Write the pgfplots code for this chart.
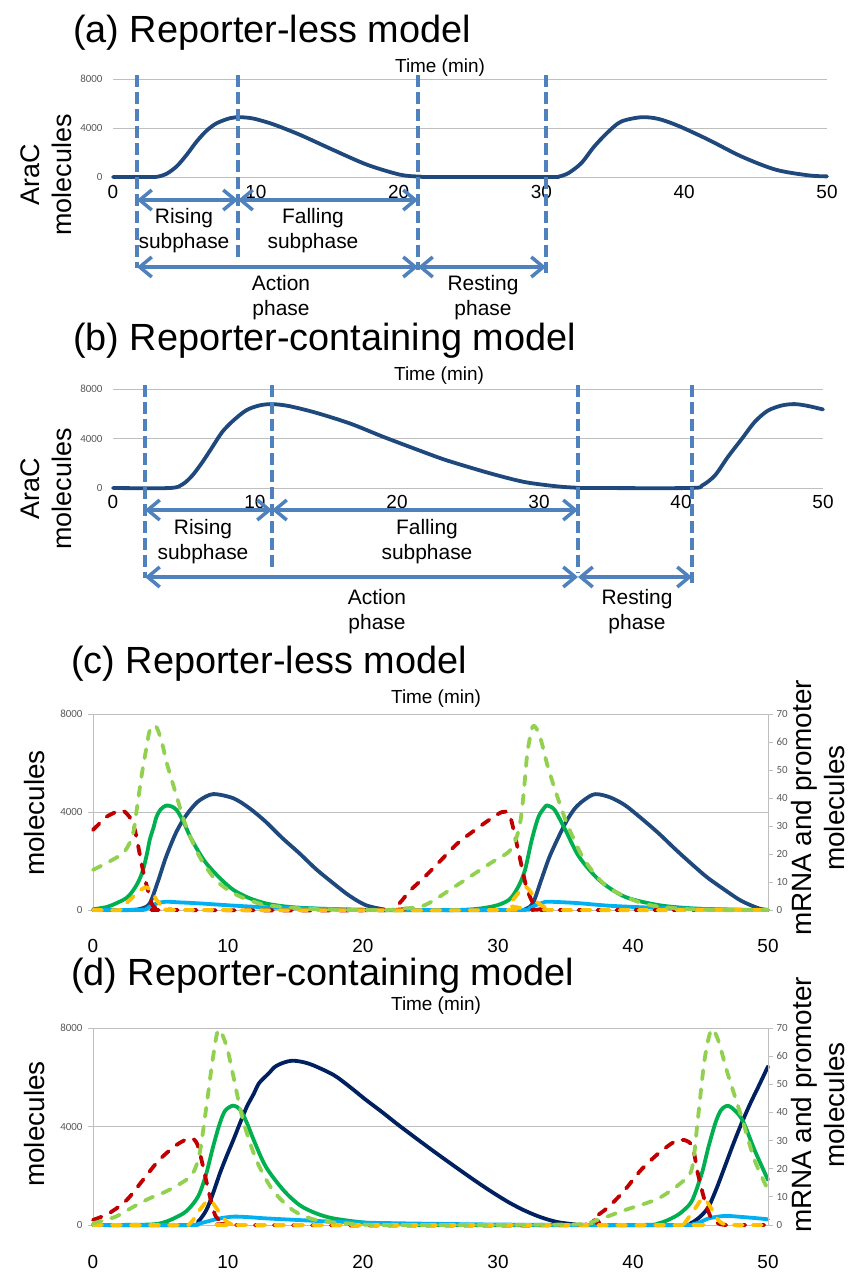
\documentclass[border=0pt]{standalone}
\usepackage{fontspec}
\setmainfont{Liberation Sans}
\newfontfamily\calib{Carlito}
\usepackage{pgfplots}
\pgfplotsset{compat=1.18}
\usetikzlibrary{arrows.meta}

\definecolor{arac}{HTML}{1F497D}
\definecolor{navy}{HTML}{002060}
\definecolor{grn}{HTML}{00B050}
\definecolor{lgrn}{HTML}{92D050}
\definecolor{dred}{HTML}{C00000}
\definecolor{gold}{HTML}{FFC000}
\definecolor{sky}{HTML}{00B0F0}
\definecolor{phase}{HTML}{4F81BD}
\definecolor{gridc}{HTML}{BFBFBF}
\definecolor{tickc}{HTML}{595959}

\pgfplotsset{
  base/.style={scale only axis, clip=false, xmin=0, xmax=50,
    xtick={0,10,20,30,40,50}, xticklabels={0,10,20,30,40,50},
    yticklabel style={font=\calib\fontsize{11}{12}\selectfont, text=tickc},
    grid style={gridc, line width=0.9bp}},
  xlab/.style={xticklabel style={font=\fontsize{19}{22}\selectfont, anchor=base, yshift=-#1}},
  phaseax/.style={base, ymin=0, ymax=8000,
    ytick={0,4000,8000}, yticklabels={0,4000,8000},
    axis line style={draw=none}, major tick length=0pt, ymajorgrids,
    yticklabel style={xshift=-7bp}},
  molax/.style={base, ymin=0, ymax=8000,
    ytick={0,4000,8000}, yticklabels={0,4000,8000},
    axis line style={gridc, line width=0.9bp}, ytick pos=left,
    tick align=outside, major tick length=5bp,
    ytick style={gridc, line width=0.9bp}, xtick style={draw=none},
    ymajorgrids, yticklabel style={xshift=-2bp}},
  mrnaax/.style={base, ymin=0, ymax=70, hide x axis, axis y line*=right,
    ytick={0,10,...,70}, yticklabels={0,10,20,30,40,50,60,70},
    axis line style={gridc, line width=0.9bp}, tick align=outside,
    major tick length=5bp, ytick style={gridc, line width=0.9bp}},
  crv/.style={line width=3.8bp, smooth, tension=0.5, line cap=round, line join=round},
  dcrv/.style={crv, dash pattern=on 9bp off 10bp},
}

\begin{document}
\begin{tikzpicture}
\path[use as bounding box] (0,0) rectangle (850bp,-1272bp);

% (a) reporter-less, AraC only
\begin{axis}[phaseax, xlab=21bp, at={(113bp,-177bp)}, anchor=south west, width=714bp, height=98bp]
\addplot[crv, arac] coordinates {
(0,0) (2.5,0) (3.1,20) (3.76,270) (4.46,870) (5.16,1815) (5.86,2900) (6.56,3790)
(7.26,4390) (8.19,4800) (8.9,4880) (9.83,4770) (11.2,4310) (13.1,3440) (15.4,2220)
(17.8,1000) (20.1,190) (21.5,30) (22.5,0) (30.5,0) (31.2,30) (31.9,325) (32.8,1140)
(33.7,2490) (34.7,3710) (35.6,4530) (37.0,4880) (38.2,4740) (39.6,4170) (41.7,3040)
(44.0,1680) (46.4,600) (48.7,135) (50,50)};
\end{axis}

% (b) reporter-containing, AraC only
\begin{axis}[phaseax, xlab=20bp, at={(113bp,-488bp)}, anchor=south west, width=710bp, height=99bp]
\addplot[crv, arac] coordinates {
(0,0) (4.0,0) (4.9,300) (5.6,1030) (6.3,2100) (7.0,3320) (7.7,4540) (8.5,5480)
(9.4,6290) (10.3,6670) (11.2,6780) (12.4,6620) (14.3,6080) (16.7,5210) (19.0,4150)
(21.0,3280) (23.0,2430) (24.3,1950) (26.7,1140) (29.0,480) (31.3,130) (32.7,20) (33.5,0)
(40.6,0) (41.5,215) (42.4,1030) (43.3,2510) (44.3,4000) (45.2,5350) (46.1,6240)
(47.1,6670) (48.0,6780) (48.9,6640) (50,6350)};
\end{axis}

% (c) reporter-less, all species
\begin{axis}[molax, xlab=37bp, at={(93bp,-910bp)}, anchor=south west, width=675bp, height=196bp]
\addplot[crv, arac] coordinates {
(0,0) (2,0) (3,10) (3.6,60) (4.2,270) (4.8,1150) (5.4,2150) (6.1,3100) (6.7,3700)
(7.3,4150) (7.9,4480) (8.9,4730) (10.4,4560) (11.6,4150) (12.8,3600) (14,2950) (15.3,2310)
(16.5,1680) (17.8,1090) (19,580) (20.2,200) (21.5,30) (22.5,0) (31,0) (32,30)
(32.6,300) (33.2,1220) (33.8,2150) (34.5,3000) (35.1,3650) (35.7,4150) (36.4,4500)
(37.2,4730) (38.3,4600) (39.4,4280) (40.6,3750) (41.9,3130) (43.1,2500) (44.3,1900)
(45.5,1330) (46.8,820) (48,380) (49.3,70) (50,0)};
\addplot[crv, grn] coordinates {
(0,30) (1,120) (1.7,270) (2.5,500) (3,820) (3.4,1200) (3.7,1630) (4.0,2300) (4.2,2860)
(4.5,3400) (4.7,3800) (5.0,4100) (5.4,4260) (5.8,4230) (6.2,4080) (6.7,3600) (7.2,2990)
(7.8,2400) (8.4,1900) (9.4,1300) (10.4,820) (11.6,480) (12.8,270) (14,160) (15.3,95)
(17.8,30) (20,0) (27,0) (29.5,135) (30.8,410) (31.5,950) (32,1630) (32.5,2860) (33,3800)
(33.5,4220) (33.7,4260) (34.2,4080) (35,3260) (36,2180) (37.5,1220) (39.4,540)
(41.9,200) (44.3,70) (46.8,10) (50,0)};
\addplot[crv, sky] coordinates {
(0,0) (3.5,0) (4.0,60) (4.4,200) (5.0,310) (5.4,340) (6.5,310) (7.9,270) (10.4,180)
(12.8,110) (15.3,70) (17.8,40) (20,15) (22,0) (31.5,0) (32.3,60) (32.8,200) (33.4,310)
(33.7,340) (35.7,290) (38.1,180) (40.7,110) (43.2,70) (45.6,40) (48,15) (50,5)};
\end{axis}
\begin{axis}[mrnaax, at={(93bp,-910bp)}, anchor=south west, width=675bp, height=196bp]
\addplot[dcrv, dred] coordinates {
(0,28.6) (0.5,31) (1,33.3) (1.7,35) (2.2,35.5) (2.7,33.3) (3.1,28.6) (3.5,19) (3.75,13)
(4,8.3) (4.4,1.8) (4.9,0.2) (5.5,0) (22,0) (22.7,2.4) (23.5,7) (24.5,11.5) (25.8,17.9)
(27,23.8) (28.3,28.6) (29.5,32.7) (30.3,35) (30.8,34.5) (31.1,29.8) (31.6,19) (32.1,8.3)
(32.6,2.4) (33.1,0.3) (33.6,0) (50,0)};
\addplot[dcrv, gold] coordinates {
(0,0) (2,0) (2.2,1.2) (2.6,3) (3,4.8) (3.4,6.6) (3.7,7.7) (4.0,8.1) (4.2,7.4) (4.5,5.5)
(4.7,3.6) (5.2,1.2) (5.8,0.3) (6.7,0) (30.3,0) (30.8,1.8) (31.5,6) (32,8.3) (32.5,6)
(33,2.4) (33.7,0.6) (34.5,0) (50,0)};
\addplot[dcrv, lgrn] coordinates {
(0,14.3) (1.2,17.3) (2.2,20.2) (2.7,23.8) (3.0,28) (3.2,34.5) (3.45,43) (3.7,51)
(4.0,59) (4.2,64) (4.6,66) (4.9,63) (5.2,58) (5.4,53.6) (5.8,47) (6.2,40.5) (6.9,29.8)
(7.9,19) (9.1,10.7) (10.4,6) (11.6,3.5) (12.8,1.8) (15.3,0.6) (18,0.1) (21.5,0)
(22.7,0.4) (24.6,1.8) (27,9) (29.5,16.9) (30.8,20.8) (31.3,25) (31.6,30) (31.8,37)
(32.0,47) (32.2,57) (32.6,65.7) (33.1,62) (33.7,51) (34.5,39) (35.2,29.8) (36.4,17.9)
(38.1,8.3) (40.7,2.4) (43.2,0.6) (46,0) (50,0)};
\end{axis}

% (d) reporter-containing, all species
\begin{axis}[molax, xlab=38bp, at={(93bp,-1225bp)}, anchor=south west, width=675bp, height=197bp]
\addplot[crv, navy] coordinates {
(0,0) (7.2,0) (7.8,150) (8.4,610) (8.9,1300) (9.4,2100) (9.9,2800) (10.4,3460)
(10.9,4150) (11.4,4810) (11.9,5320) (12.3,5760) (13,6150) (13.6,6470) (14.7,6670)
(16,6550) (17.8,6100) (19,5620) (20.2,5090) (21.5,4550) (22.7,4030) (24.6,3250)
(25.8,2770) (27,2300) (28.3,1800) (29.5,1360) (30.8,920) (32,580) (33.2,310)
(34.4,120) (35.7,25) (36.5,0) (43.5,0) (44.3,80) (45,350) (45.6,746) (46.2,1500)
(46.8,2370) (47.4,3250) (48.05,4140) (48.7,4950) (49.3,5630) (50,6440)};
\addplot[crv, grn] coordinates {
(0,0) (4.2,20) (5.4,135) (6.7,475) (7.4,850) (7.9,1290) (8.4,2100) (8.9,3190) (9.4,4140)
(9.8,4650) (10.4,4850) (10.9,4680) (11.4,4150) (11.9,3460) (12.8,2370) (14.1,1420)
(15.3,810) (16.5,480) (17.8,270) (20.2,95) (22.7,30) (25,0) (40,0) (41.9,70) (43.1,340)
(43.8,620) (44.4,1020) (45.1,2100) (45.6,3190) (46.1,4140) (46.5,4650) (46.9,4830)
(47.3,4770) (48.1,4270) (49,3050) (50,1830)};
\addplot[crv, sky] coordinates {
(0,0) (7.2,0) (7.8,50) (8.4,135) (9.4,270) (10.4,340) (11.5,320) (12.8,270) (15.3,200)
(17.8,135) (20.2,95) (22.7,70) (25,50) (28,30) (31,15) (34,5) (36,0) (44,0) (44.4,30)
(45,120) (45.6,270) (46.8,370) (48,330) (49.3,270) (50,230)};
\end{axis}
\begin{axis}[mrnaax, at={(93bp,-1225bp)}, anchor=south west, width=675bp, height=197bp]
\addplot[dcrv, dred] coordinates {
(0,1.8) (1.2,4.2) (2.5,8.9) (3.7,16) (4.9,23.1) (6.2,28.5) (7.2,30.8) (7.7,29) (8.1,21.9)
(8.6,11.3) (9.1,3) (9.9,0.6) (10.5,0) (35.5,0) (37,2.4) (38.2,6.5) (39.4,12.5)
(40.6,19.6) (41.9,25.5) (43.1,29.7) (43.8,30.2) (44.4,27.9) (44.8,18.4) (45.3,8.9)
(45.8,2.4) (46.3,0.6) (47,0) (50,0)};
\addplot[dcrv, gold] coordinates {
(0,0) (6.4,0) (7.2,0.6) (7.9,5.3) (8.4,8.3) (8.7,8.5) (8.9,7.7) (9.4,4.2) (9.9,1.2)
(10.4,0.2) (11,0) (43.5,0) (43.8,0.6) (44.6,5.9) (45.2,9.5) (45.8,5.9) (46.3,1.8)
(46.8,0.2) (47.3,0) (50,0)};
\addplot[dcrv, lgrn] coordinates {
(0,0.6) (1.7,3) (3,6.5) (4.2,9.5) (5.4,11.9) (6.7,15.4) (7.4,18.4) (7.9,25.5) (8.4,42.1)
(8.9,59.9) (9.3,69.4) (9.9,63.4) (10.4,52.8) (11.1,37.4) (12.1,23.1) (13.3,12.5)
(14.8,5.3) (16.5,1.8) (19,0.5) (22,0) (35.7,0.2) (37,1.2) (39.4,5.3) (41.9,9.5)
(43.8,16) (44.4,20.8) (44.8,37.4) (45.3,58.7) (45.8,69.4) (46.3,65.8) (47,54)
(48.1,37.4) (49,23.1) (50,12.5)};
\end{axis}

% titles, labels and phase annotations (1 unit = 1 pixel of the figure, y downwards)
\begin{scope}[x=1bp, y=-1bp, every node/.style={inner sep=0pt},
  ph/.style={draw=phase, line width=3.5bp},
  dsh/.style={ph, dash pattern=on 12bp off 5bp},
  arr/.style={ph, arrows={Straight Barb[length=12bp,width=20bp]-Straight Barb[length=12bp,width=20bp]}}]
\tikzset{ttl/.style={anchor=base west, font=\fontsize{38}{45}\selectfont},
  tm/.style={anchor=base, font=\fontsize{19}{22}\selectfont},
  yl/.style={rotate=90, align=center, font=\fontsize{27}{32}\selectfont},
  ml/.style={rotate=90, align=center, font=\fontsize{28}{33}\selectfont},
  pt/.style={align=center, font=\fontsize{21}{25}\selectfont}}

\node[ttl] at (73,42) {(a) Reporter-less model};
\node[tm] at (440,72) {Time (min)};
\node[yl] at (46,175) {AraC\\molecules};
\draw[dsh] (137,75) -- (137,268);
\draw[dsh] (238,75) -- (238,258);
\draw[dsh] (418,75) -- (418,270);
\draw[dsh] (546,75) -- (546,273);
\draw[arr] (137,200) -- (238,200);
\draw[arr] (238,200) -- (418,200);
\draw[arr] (137,267) -- (418,267);
\draw[arr] (418,267) -- (546,267);
\node[pt] at (184,231) {Rising\\subphase};
\node[pt] at (313,231) {Falling\\subphase};
\node[pt] at (281,298) {Action\\phase};
\node[pt] at (483,298) {Resting\\phase};

\node[ttl] at (73,350) {(b) Reporter-containing model};
\node[tm] at (439,380) {Time (min)};
\node[yl] at (46,489) {AraC\\molecules};
\draw[dsh] (145,385) -- (145,578);
\draw[dsh] (272,385) -- (272,567);
\draw[dsh] (578,385) -- (578,573);
\draw[dsh] (692,385) -- (692,583);
\draw[arr] (145,510) -- (272,510);
\draw[arr] (272,510) -- (578,510);
\draw[arr] (145,577) -- (578,577);
\draw[arr] (578,577) -- (692,577);
\node[pt] at (203,542) {Rising\\subphase};
\node[pt] at (427,542) {Falling\\subphase};
\node[pt] at (377,612) {Action\\phase};
\node[pt] at (637,612) {Resting\\phase};

\node[ttl] at (71,673) {(c) Reporter-less model};
\node[tm] at (436,703) {Time (min)};
\node[ml] at (35,813) {molecules};
\node[ml] at (818,808) {mRNA and promoter\\molecules};

\node[ttl] at (71,985) {(d) Reporter-containing model};
\node[tm] at (436,1010) {Time (min)};
\node[ml] at (35,1124) {molecules};
\node[ml] at (818,1105) {mRNA and promoter\\molecules};
\end{scope}
\end{tikzpicture}
\end{document}
